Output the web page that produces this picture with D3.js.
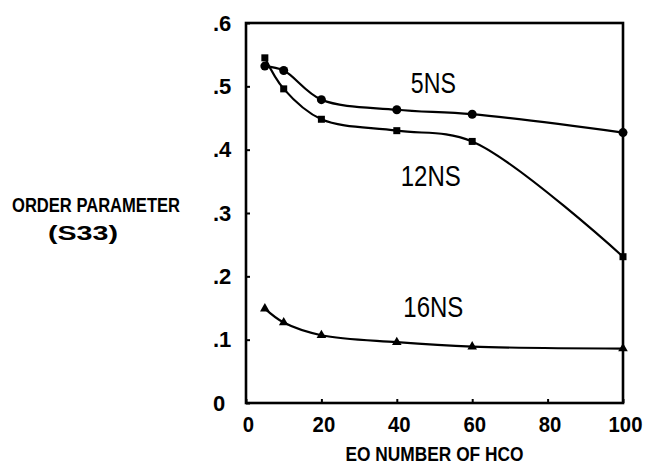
<!DOCTYPE html>
<html>
<head>
<meta charset="utf-8">
<script src="https://cdn.jsdelivr.net/npm/d3@7"></script>
<style>
  body { margin: 0; background: #fff; }
  svg { display: block; }
</style>
</head>
<body>
<figure style="margin:0"></figure>
<script>
const eoNumber = [5, 10, 20, 40, 60, 100]
const ns5 = [0.532, 0.525, 0.479, 0.463, 0.456, 0.427]
const ns12 = [0.545, 0.496, 0.448, 0.430, 0.413, 0.231]
const ns16 = [0.149, 0.127, 0.107, 0.096, 0.089, 0.086]
const xTicks = [0, 20, 40, 60, 80, 100]
const yTicks = [0, 0.1, 0.2, 0.3, 0.4, 0.5, 0.6]
const yTickLabels = ['0', '.1', '.2', '.3', '.4', '.5', '.6']
const seriesNames = ['5NS', '12NS', '16NS']
const labelAt = [[49.7, 0.49], [49, 0.342], [49.7, 0.136]]

const width = 650
const height = 464
const margin = { top: 23, right: 27, bottom: 61, left: 246 }

const x = d3.scaleLinear().domain([0, 100]).range([margin.left, width - margin.right])
const y = d3.scaleLinear().domain([0, 0.6]).range([height - margin.bottom, margin.top])

const svg = d3.select('figure').append('svg')
  .attr('width', width)
  .attr('height', height)
  .style('font-family', '"Liberation Sans", Arial, sans-serif')

// frame
svg.append('rect')
  .attr('x', x(0))
  .attr('y', y(0.6))
  .attr('width', x(100) - x(0))
  .attr('height', y(0) - y(0.6))
  .attr('fill', 'none')
  .attr('stroke', '#000')
  .attr('stroke-width', 2.6)

const xAxis = svg.append('g')
  .attr('transform', `translate(0,${y(0)})`)
  .call(d3.axisBottom(x).tickValues(xTicks).tickSizeInner(-4).tickSizeOuter(0).tickPadding(13))
xAxis.select('.domain').remove()
xAxis.selectAll('line').attr('stroke-width', 2)
xAxis.selectAll('text')
  .attr('font-size', 22)
  .attr('font-weight', 'bold')
  .attr('fill', '#000')
  .attr('dx', 2)
  .attr('textLength', d => String(d).length * 11.3)
  .attr('lengthAdjust', 'spacingAndGlyphs')

const yAxis = svg.append('g')
  .attr('transform', `translate(${x(0)},0)`)
  .call(d3.axisLeft(y).tickValues(yTicks).tickFormat((d, i) => yTickLabels[i]).tickSizeInner(-4).tickSizeOuter(0))
yAxis.select('.domain').remove()
yAxis.selectAll('line').attr('stroke-width', 2)
yAxis.selectAll('text')
  .attr('font-size', 22)
  .attr('font-weight', 'bold')
  .attr('fill', '#000')
  .attr('text-anchor', 'start')
  .attr('x', -33)

const line = d3.line()
  .x((d, i) => x(eoNumber[i]))
  .y(d => y(d))
  .curve(d3.curveCatmullRom.alpha(0.5))

const allSeries = [ns5, ns12, ns16]
svg.append('g')
  .selectAll('path')
  .data(allSeries)
  .join('path')
  .attr('d', line)
  .attr('fill', 'none')
  .attr('stroke', '#000')
  .attr('stroke-width', 2.2)

// markers
svg.append('g').selectAll('circle')
  .data(ns5)
  .join('circle')
  .attr('cx', (d, i) => x(eoNumber[i]))
  .attr('cy', d => y(d))
  .attr('r', 4.5)

svg.append('g').selectAll('rect')
  .data(ns12)
  .join('rect')
  .attr('x', (d, i) => x(eoNumber[i]) - 3.5)
  .attr('y', d => y(d) - 3.5)
  .attr('width', 7)
  .attr('height', 7)

svg.append('g').selectAll('path')
  .data(ns16)
  .join('path')
  .attr('transform', (d, i) => `translate(${x(eoNumber[i])},${y(d)})`)
  .attr('d', d3.symbol(d3.symbolTriangle, 40))

// series labels
svg.append('g').selectAll('text')
  .data(seriesNames)
  .join('text')
  .attr('x', (d, i) => x(labelAt[i][0]))
  .attr('y', (d, i) => y(labelAt[i][1]))
  .attr('text-anchor', 'middle')
  .attr('font-size', 29)
  .attr('textLength', d => d.length * 15)
  .attr('lengthAdjust', 'spacingAndGlyphs')
  .text(d => d)

// axis titles
svg.append('text')
  .attr('x', (x(0) + x(100)) / 2)
  .attr('y', 461)
  .attr('text-anchor', 'middle')
  .attr('font-size', 21)
  .attr('font-weight', 'bold')
  .attr('textLength', 178)
  .attr('lengthAdjust', 'spacingAndGlyphs')
  .text('EO NUMBER OF HCO')

svg.append('text')
  .attr('x', 96)
  .attr('y', 212)
  .attr('text-anchor', 'middle')
  .attr('font-size', 20)
  .attr('font-weight', 'bold')
  .attr('textLength', 168)
  .attr('lengthAdjust', 'spacingAndGlyphs')
  .text('ORDER PARAMETER')

svg.append('text')
  .attr('x', 83)
  .attr('y', 240)
  .attr('text-anchor', 'middle')
  .attr('font-size', 21)
  .attr('font-weight', 'bold')
  .attr('textLength', 70)
  .attr('lengthAdjust', 'spacingAndGlyphs')
  .text('(S33)')
</script>
</body>
</html>
